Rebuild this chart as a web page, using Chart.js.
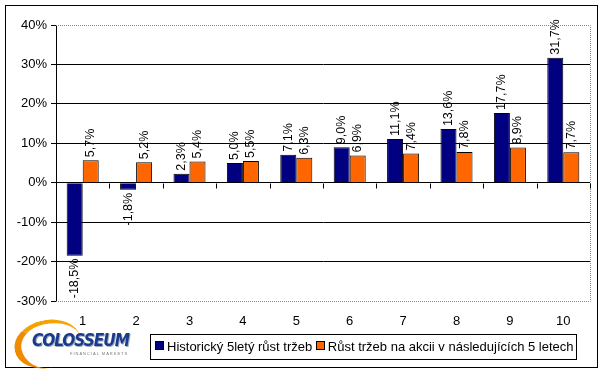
<!DOCTYPE html>
<html>
<head>
<meta charset="utf-8">
<script src="https://cdn.jsdelivr.net/npm/chart.js@4/dist/chart.umd.min.js"></script>
<style>
  body { margin: 0; background: #fff; font-family: "Liberation Sans", Arial, sans-serif; }
  #wrap { position: relative; width: 605px; height: 373px; }
  #frame { position: absolute; left: 5px; top: 5px; width: 591px; height: 361px; border: 1px solid #000; }
  #legend { position: absolute; left: 150px; top: 334px; width: 421px; height: 24px; border: 1px solid #000;
            font-size: 13px; line-height: 24px; white-space: nowrap; padding-left: 4px; color: #000; }
  #legend span.sw { display: inline-block; width: 7px; height: 7px; border: 1px solid #000; margin-right: 3px; vertical-align: 1px; }
  #logo { position: absolute; left: 10px; top: 314px; width: 125px; height: 52px; }
  #logo .arc { position: absolute; left: 4px; top: 6px; width: 60px; height: 44px; border-radius: 50%;
               border-left: 7px solid #f08a00; border-top: 4px solid #f5a300; border-right: 0; border-bottom: 0;
               transform: rotate(-12deg); }
  #logo .name { position: absolute; left: 22px; top: 16px; font: italic bold 17px "DejaVu Sans Condensed", "Liberation Sans Narrow", sans-serif;
                color: #1b3a8c; letter-spacing: -1px; text-shadow: 1px 1px 0 #9ab; }
  #logo .sub { position: absolute; left: 60px; top: 37px; font-size: 4px; color: #777; letter-spacing: 1px; }
  canvas { position: absolute; left: 0; top: 0; }
</style>
</head>
<body>
<div id="wrap">
  <div id="frame"></div>
  <canvas id="c" width="605" height="373"></canvas>
  <div id="logo"><div class="arc"></div><div class="name">COLOSSEUM</div><div class="sub">FINANCIAL MARKETS</div></div>
  <div id="legend"><span class="sw" style="background:#000080"></span>Historický 5letý růst tržeb <span class="sw" style="background:#ff6600"></span>Růst tržeb na akcii v následujících 5 letech</div>
</div>
<script>
// decily 1-10
var categories = ['1','2','3','4','5','6','7','8','9','10'];
var historicky = [-18.5, -1.8, 2.3, 5.0, 7.1, 9.0, 11.1, 13.6, 17.7, 31.7];
var nasledujici = [5.7, 5.2, 5.4, 5.5, 6.3, 6.9, 7.4, 7.8, 8.9, 7.7];
var seriesNames = ['Historický 5letý růst tržeb', 'Růst tržeb na akcii v následujících 5 letech'];

function pct(v) { return v.toFixed(1).replace('.', ',') + '%'; }

var excelLook = {
  id: 'excelLook',
  afterDatasetsDraw: function(chart) {
    var ctx = chart.ctx, a = chart.chartArea, y = chart.scales.y;
    ctx.save();
    // dotted plot border top/right/bottom
    ctx.strokeStyle = '#888';
    ctx.lineWidth = 1;
    ctx.setLineDash([1, 1]);
    ctx.beginPath();
    ctx.moveTo(a.left, a.top + 0.5); ctx.lineTo(a.right + 0.5, a.top + 0.5);
    ctx.lineTo(a.right + 0.5, a.bottom + 0.5); ctx.lineTo(a.left, a.bottom + 0.5);
    ctx.stroke();
    ctx.setLineDash([]);
    // category tick marks on the zero line
    var y0 = Math.round(y.getPixelForValue(0)) + 0.5;
    ctx.strokeStyle = '#000';
    ctx.beginPath();
    for (var i = 0; i <= categories.length; i++) {
      var px = Math.round(a.left + (a.right - a.left) * i / categories.length) + 0.5;
      ctx.moveTo(px, y0); ctx.lineTo(px, y0 + 5);
    }
    ctx.stroke();
    // value labels, rotated
    ctx.fillStyle = '#000';
    ctx.font = '12.5px "Liberation Sans", Arial, sans-serif';
    ctx.textBaseline = 'middle';
    chart.data.datasets.forEach(function(ds, di) {
      chart.getDatasetMeta(di).data.forEach(function(bar, i) {
        var v = ds.data[i];
        ctx.save();
        ctx.translate(bar.x, bar.y + (v >= 0 ? -3 : 3));
        ctx.rotate(-Math.PI / 2);
        ctx.textAlign = v >= 0 ? 'left' : 'right';
        ctx.fillText(pct(v), 0, 0);
        ctx.restore();
      });
    });
    ctx.restore();
  }
};

new Chart('c', {
  type: 'bar',
  data: {
    labels: categories,
    datasets: [{
      label: seriesNames[0],
      data: historicky,
      backgroundColor: '#000080',
      borderColor: '#000',
      borderWidth: 1
    }, {
      label: seriesNames[1],
      data: nasledujici,
      backgroundColor: '#ff6600',
      borderColor: '#000',
      borderWidth: 1
    }]
  },
  options: {
    responsive: false,
    animation: false,
    layout: { padding: { left: 5, top: 25, right: 15, bottom: 42 } },
    plugins: { legend: { display: false }, tooltip: { enabled: false } },
    datasets: { bar: { categoryPercentage: 0.6, barPercentage: 1.0 } },
    scales: {
      x: {
        grid: { display: false },
        border: { display: false },
        ticks: { color: '#000', font: { size: 13, family: '"Liberation Sans", Arial, sans-serif' }, padding: 5 },
        afterFit: function(s) { s.height = 30; }
      },
      y: {
        min: -30, max: 40,
        ticks: { stepSize: 10, color: '#000', padding: 4,
                 font: { size: 13, family: '"Liberation Sans", Arial, sans-serif' },
                 callback: function(v) { return v + '%'; } },
        grid: {
          color: function(c) { return (c.tick && (c.tick.value === 40 || c.tick.value === -30)) ? 'rgba(0,0,0,0)' : '#000'; },
          tickColor: '#000', tickLength: 5
        },
        border: { display: true, color: '#000' },
        afterFit: function(s) { s.width = 51; }
      }
    }
  },
  plugins: [excelLook]
});
</script>
</body>
</html>
